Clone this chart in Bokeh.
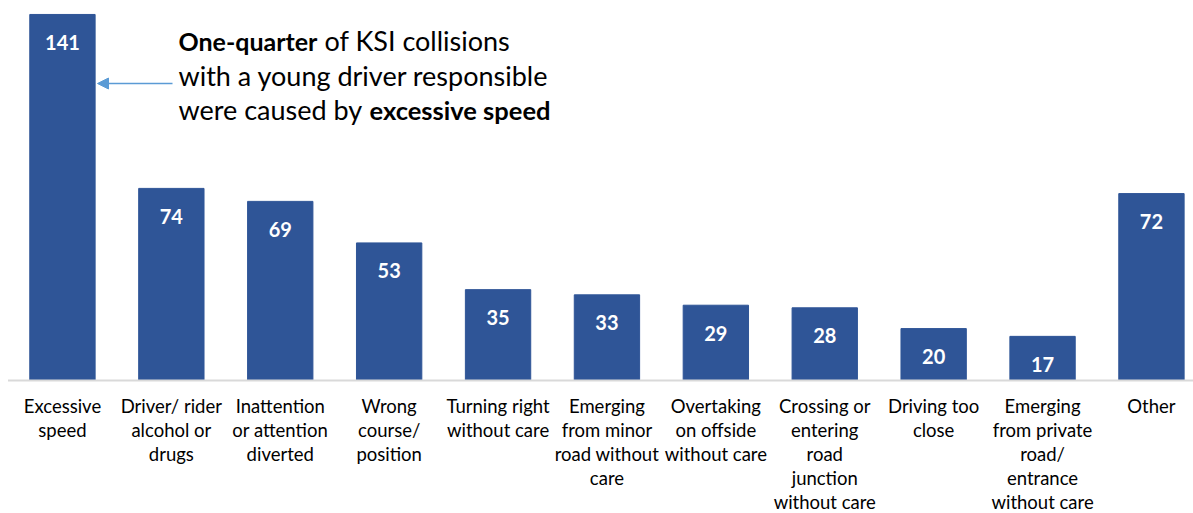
from bokeh.plotting import figure
from bokeh.models import ColumnDataSource, Arrow, NormalHead, Range1d
from bokeh.core.properties import value
from bokeh.embed import file_html
from bokeh.resources import INLINE

categories = [
    "Excessive\nspeed",
    "Driver/ rider\nalcohol or\ndrugs",
    "Inattention\nor attention\ndiverted",
    "Wrong\ncourse/\nposition",
    "Turning right\nwithout care",
    "Emerging\nfrom minor\nroad without\ncare",
    "Overtaking\non offside\nwithout care",
    "Crossing or\nentering\nroad\njunction\nwithout care",
    "Driving too\nclose",
    "Emerging\nfrom private\nroad/\nentrance\nwithout care",
    "Other",
]
values = [141, 74, 69, 53, 35, 33, 29, 28, 20, 17, 72]

FONT = "Lato"
BAR = "#2f5597"
PX_PER_UNIT = 2.596   # vertical pixels per unit
PX_PER_CAT = 108.9    # horizontal pixels per category

xs = list(range(len(categories)))
src = ColumnDataSource(dict(
    x=xs,
    values=values,
    labels=[str(v) for v in values],
    label_y=[v - 28 / PX_PER_UNIT for v in values],
    cats=categories,
    cat_y=[-14 / PX_PER_UNIT] * len(categories),
))

x0 = -0.5 - 7.5 / PX_PER_CAT
p = figure(width=1193, height=513, output_backend="svg", toolbar_location=None,
           x_range=Range1d(x0, x0 + 1193 / PX_PER_CAT),
           y_range=Range1d(-133 / PX_PER_UNIT, 380 / PX_PER_UNIT),
           min_border=0, min_border_left=0, min_border_right=0,
           min_border_top=0, min_border_bottom=0)
p.axis.visible = False
p.grid.visible = False
p.outline_line_color = None
p.background_fill_color = "white"
p.border_fill_color = "white"

p.vbar(x="x", top="values", width=0.6, bottom=0, source=src,
       fill_color=BAR, line_color=BAR)

# baseline (category axis line)
p.segment(x0=[-0.5], y0=[0], x1=[x0 + 1193 / PX_PER_CAT], y1=[0],
          line_color="#d9d9d9", line_width=2)

p.text(x="x", y="label_y", text="labels", source=src, text_color="white",
       text_font=value(FONT), text_font_style="bold", text_font_size="20px",
       text_align="center", text_baseline="middle")

p.text(x="x", y="cat_y", text="cats", source=src, text_color="#000000",
       text_font=value(FONT), text_font_size="18.5px",
       text_align="center", text_baseline="top", text_line_height=1.1)

# annotation
def ydata(py):
    return (380 - py) / PX_PER_UNIT

def xdata(px):
    return x0 + px / PX_PER_CAT

pieces = [
    (178, 40, "One-quarter", "bold", "25px"),
    (324, 40, "of KSI collisions", "normal", "27px"),
    (178, 75, "with a young driver responsible", "normal", "27px"),
    (178, 109, "were caused by", "normal", "27px"),
    (369, 109, "excessive speed", "bold", "25.5px"),
]
for px, py, t, style, size in pieces:
    p.text(x=[xdata(px)], y=[ydata(py)], text=[t], text_font=value(FONT),
           text_font_size=size, text_font_style=style, text_color="#000000",
           text_align="left", text_baseline="middle")

p.add_layout(Arrow(end=NormalHead(size=11, fill_color="#5b9bd5", line_color="#5b9bd5"),
                   x_start=xdata(172), y_start=ydata(83), x_end=xdata(97), y_end=ydata(83),
                   line_color="#5b9bd5", line_width=1.5))

open("out.html", "w").write(file_html(p, INLINE))
